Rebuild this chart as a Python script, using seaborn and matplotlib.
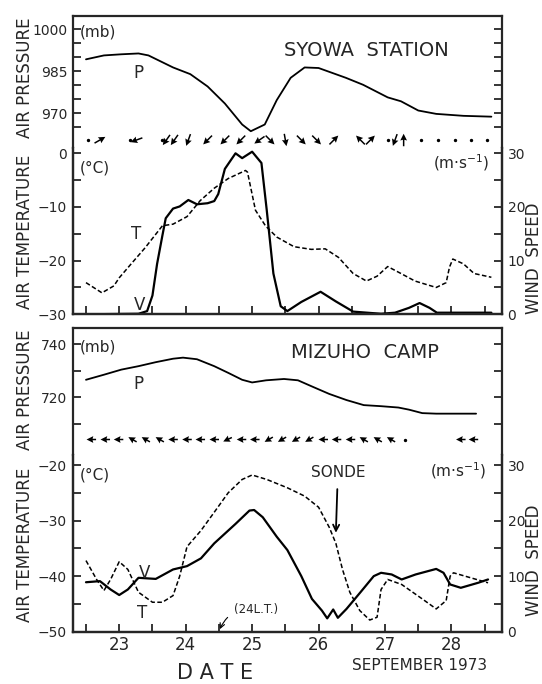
import numpy as np
import matplotlib
matplotlib.use("Agg")
import matplotlib.pyplot as plt
import seaborn as sns

# ---- Syowa Station ----
syowa_p_day = [22.50, 22.77, 23.03, 23.29, 23.44, 23.81, 24.07, 24.33, 24.59, 24.85, 24.98,
               25.19, 25.37, 25.58, 25.79, 26.00, 26.41, 26.67, 27.04, 27.24, 27.50, 27.77, 28.18, 28.60]
syowa_p = [989.3, 990.7, 991.1, 991.4, 990.7, 986.4, 984.0, 979.6, 973.5, 966.0, 963.6,
           966.0, 974.7, 982.7, 986.4, 986.2, 982.7, 980.2, 975.7, 974.3, 971.0, 969.8, 969.1, 968.8]

syowa_t_day = [22.50, 22.74, 22.92, 23.00, 23.18, 23.39, 23.65, 23.81, 24.02, 24.22, 24.43, 24.64,
               24.90, 24.93, 25.05, 25.20, 25.37, 25.63, 25.89, 26.10, 26.30, 26.52, 26.72, 26.88,
               27.04, 27.24, 27.45, 27.77, 27.92, 27.97, 28.02, 28.18, 28.34, 28.60]
syowa_t = [-24.1, -26.0, -24.7, -23.2, -20.6, -17.6, -13.5, -13.2, -11.8, -8.8, -6.5, -4.7,
           -3.2, -3.5, -10.6, -13.5, -15.6, -17.4, -17.9, -17.8, -19.4, -22.4, -23.8, -22.9,
           -21.1, -22.4, -23.8, -25.0, -24.1, -21.2, -19.7, -20.6, -22.4, -23.1]

syowa_v_day = [22.50, 23.29, 23.42, 23.50, 23.57, 23.65, 23.70, 23.81, 23.91, 24.04, 24.17, 24.33,
               24.43, 24.49, 24.59, 24.75, 24.85, 25.00, 25.14, 25.22, 25.32, 25.43, 25.53, 25.74,
               26.03, 26.26, 26.52, 26.94, 27.15, 27.36, 27.52, 27.67, 27.78, 28.60]
syowa_v = [0.0, 0.1, 0.6, 3.5, 9.4, 14.7, 17.9, 19.7, 20.1, 21.3, 20.5, 20.7,
           21.1, 22.4, 27.1, 30.0, 29.1, 30.3, 28.2, 19.4, 7.6, 1.5, 0.6, 2.3,
           4.2, 2.4, 0.5, 0.1, 0.3, 1.2, 2.1, 1.2, 0.3, 0.3]

# wind direction: degrees the arrow points to (ccw from east), nan = calm
syowa_wind_day = [22.53, 22.71, 23.16, 23.26, 23.65, 23.71, 23.83, 24.04, 24.33, 24.59, 24.83,
                  25.11, 25.27, 25.50, 25.74, 25.97, 26.23, 26.63, 26.78, 27.04, 27.15, 27.28,
                  27.54, 27.80, 28.06, 28.29, 28.53]
syowa_wind_dir = [np.nan, 30, np.nan, 200, np.nan, 235, 235, 250, 225, 225, 225,
                  215, -45, -80, -45, -45, 45, 135, 45, np.nan, 250, 90,
                  np.nan, np.nan, np.nan, np.nan, np.nan]

# ---- Mizuho Camp ----
mizuho_p_day = [22.50, 22.77, 23.03, 23.29, 23.55, 23.81, 23.96, 24.17, 24.43, 24.64, 24.85, 25.00,
                25.21, 25.48, 25.69, 25.90, 26.16, 26.42, 26.68, 26.94, 27.20, 27.36, 27.56, 27.77,
                27.98, 28.37]
mizuho_p = [726.6, 728.5, 730.4, 731.7, 733.2, 734.5, 734.9, 734.3, 731.7, 729.2, 726.6, 725.6,
            726.4, 726.9, 726.4, 724.1, 721.3, 719.0, 717.1, 716.7, 716.2, 715.4, 714.1, 713.9,
            713.9, 713.9]

mizuho_t_day = [22.50, 22.66, 22.77, 22.87, 23.00, 23.13, 23.29, 23.50, 23.65, 23.81, 23.91, 24.02,
                24.23, 24.43, 24.64, 24.85, 25.00, 25.22, 25.53, 25.79, 26.00, 26.16, 26.26, 26.36,
                26.47, 26.62, 26.77, 26.88, 26.94, 27.04, 27.25, 27.56, 27.77, 27.92, 27.98, 28.03,
                28.29, 28.55]
mizuho_t = [-37.2, -40.6, -42.6, -40.6, -37.4, -38.8, -42.9, -44.7, -44.7, -43.5, -40.0, -34.7,
            -31.8, -28.5, -25.0, -22.6, -21.8, -22.6, -24.1, -25.6, -27.6, -31.2, -34.1, -38.8,
            -42.9, -46.2, -47.9, -47.4, -42.4, -40.6, -41.5, -44.1, -45.9, -44.4, -40.0, -39.4,
            -40.3, -41.2]

mizuho_v_day = [22.50, 22.71, 22.87, 23.00, 23.13, 23.29, 23.55, 23.81, 24.02, 24.23, 24.43, 24.75,
                24.96, 25.03, 25.16, 25.37, 25.53, 25.74, 25.90, 26.05, 26.13, 26.22, 26.29, 26.42,
                26.63, 26.83, 26.94, 27.10, 27.25, 27.46, 27.77, 27.88, 27.98, 28.14, 28.40, 28.55]
mizuho_v = [8.9, 9.1, 7.6, 6.6, 7.6, 9.7, 9.5, 11.2, 11.8, 13.2, 15.9, 19.4,
            21.8, 21.9, 20.6, 17.1, 14.7, 10.0, 5.9, 3.8, 2.4, 4.0, 2.5, 4.1,
            7.1, 10.0, 10.6, 10.3, 9.4, 10.3, 11.3, 10.6, 8.5, 7.9, 8.8, 9.4]

mizuho_wind_day = [22.58, 22.79, 22.99, 23.20, 23.40, 23.61, 23.81, 24.02, 24.22, 24.43,
                   24.63, 24.84, 25.04, 25.25, 25.45, 25.66, 25.86, 26.07, 26.27, 26.48,
                   26.68, 26.89, 27.09, 27.30, 28.14, 28.33]
mizuho_wind_dir = [180, 180, 180, 150, 150, 150, 180, 180, 180, 180,
                   205, 180, 180, 210, 210, 210, 210, 180, 180, 180,
                   150, 150, 150, np.nan, 180, 180]

date_ticks = [23, 24, 25, 26, 27, 28]
half_day_ticks = [22.5, 23.5, 24.5, 25.5, 26.5, 27.5, 28.5]
sonde_day = 26.26

W, H = 542, 684
XLIM = (22.30, 28.76)

sns.set_style("ticks")
plt.rcParams['font.family'] = ['DejaVu Sans']
plt.rcParams['axes.linewidth'] = 1.6

fig = plt.figure(figsize=(W / 100, H / 100), dpi=100)


def rect(x0, y0, x1, y1):
    return [x0 / W, 1 - y1 / H, (x1 - x0) / W, (y1 - y0) / H]


def txt(x, y, s, **kw):
    kw.setdefault('ha', 'center')
    kw.setdefault('va', 'center')
    fig.text(x / W, 1 - y / H, s, **kw)


def style_y(ax, major, minor, lim):
    ax.set_ylim(*lim)
    ax.set_yticks(major)
    ax.set_yticks(minor, minor=True)
    ax.tick_params(axis='y', which='both', direction='in', length=6, width=1.3,
                   labelsize=10, pad=4)


def wind_row(y0, y1, days, dirs, scale):
    ax = fig.add_axes(rect(72.7, y0, 502, y1))
    ax.set_xlim(*XLIM)
    ax.set_ylim(-1, 1)
    ax.axis('off')
    d = np.array(days)
    a = np.radians(np.array(dirs, dtype=float))
    ok = ~np.isnan(a)
    ax.quiver(d[ok], np.zeros(ok.sum()), np.cos(a[ok]), np.sin(a[ok]), angles='uv',
              pivot='middle', scale_units='inches', scale=scale, width=0.0035,
              headwidth=4.5, headlength=4.5, headaxislength=4, color='k')
    ax.scatter(d[~ok], np.zeros((~ok).sum()), s=2, color='k')


def panel(top, p_bot, t_bot, p_day, p, p_lim, p_major, p_minor,
          t_day, t, t_lim, t_major, t_minor, v_day, v, bottom_labels):
    ax_p = fig.add_axes(rect(72.7, top, 502, p_bot))
    sns.lineplot(x=p_day, y=p, ax=ax_p, color='k', lw=1.3)
    ax_p.set_xlim(*XLIM)
    ax_p.spines['bottom'].set_visible(False)
    ax_p.set_xticks([])
    style_y(ax_p, p_major, p_minor, p_lim)
    ax_p.tick_params(axis='y', which='both', right=True)
    ax_p.set_xlabel('')
    ax_p.set_ylabel('')

    ax_t = fig.add_axes(rect(72.7, p_bot, 502, t_bot))
    sns.lineplot(x=t_day, y=t, ax=ax_t, color='k', lw=1.1, linestyle=(0, (3, 1.6)))
    ax_t.set_xlim(*XLIM)
    style_y(ax_t, t_major, t_minor, t_lim)
    ax_t.spines['top'].set_visible(False)
    ax_t.set_xticks(date_ticks)
    ax_t.set_xticks(half_day_ticks, minor=True)
    ax_t.tick_params(axis='x', which='both', direction='in', length=6, width=1.3,
                     labelsize=12, labelbottom=bottom_labels, pad=3)
    ax_t.set_xlabel('')
    ax_t.set_ylabel('')

    ax_v = ax_t.twinx()
    sns.lineplot(x=v_day, y=v, ax=ax_v, color='k', lw=1.6)
    ax_v.set_xlim(*XLIM)
    span = t_lim[1] - t_lim[0]
    style_y(ax_v, [0, 10, 20, 30], [5, 15, 25], (0, span))
    ax_v.spines['top'].set_visible(False)
    ax_v.set_ylabel('')
    return ax_p, ax_t, ax_v


# Syowa
panel(15.7, 148, 314.3, syowa_p_day, syowa_p, (957.6, 1004.9), [970, 985, 1000],
      [965, 975, 980, 990, 995], syowa_t_day, syowa_t, (-30, 0.99), [-30, -20, -10, 0],
      [-25, -15, -5], syowa_v_day, syowa_v, False)
wind_row(130, 150, syowa_wind_day, syowa_wind_dir, 8)

# Mizuho
ax_p2, ax_t2, ax_v2 = panel(328.3, 455, 631.7, mizuho_p_day, mizuho_p, (698.4, 745.9),
                            [720, 740], [710, 730], mizuho_t_day, mizuho_t, (-50, -18.2),
                            [-50, -40, -30, -20], [-45, -35, -25], mizuho_v_day, mizuho_v, True)
wind_row(430, 449, mizuho_wind_day, mizuho_wind_dir, 10.5)

ax_t2.annotate('SONDE', xy=(sonde_day, -32.2), xytext=(sonde_day + 0.03, -21.4),
               ha='center', va='center', fontsize=11,
               arrowprops=dict(arrowstyle='->', lw=1.3, color='k', shrinkA=4, shrinkB=0))
ax_t2.annotate('(24L.T.)', xy=(24.5, -50), xytext=(25.06, -46.0), ha='center', va='center',
               fontsize=8.5, arrowprops=dict(arrowstyle='->', lw=0.8, color='k',
                                             connectionstyle='arc3,rad=0.4', shrinkA=3))

# texts
txt(366, 51, 'SYOWA  STATION', fontsize=14)
txt(365, 353, 'MIZUHO  CAMP', fontsize=14)
for y in (32, 347):
    txt(80, y, '(mb)', fontsize=11, ha='left')
txt(80, 168, '(°C)', fontsize=11, ha='left')
txt(80, 475, '(°C)', fontsize=11, ha='left')
txt(490, 163, '(m·s$^{-1}$)', fontsize=11, ha='right')
txt(487, 471, '(m·s$^{-1}$)', fontsize=11, ha='right')
txt(138, 73, 'P', fontsize=12)
txt(138, 384, 'P', fontsize=12)
txt(136, 234, 'T', fontsize=12)
txt(140, 305, 'V', fontsize=12)
txt(145, 573, 'V', fontsize=12)
txt(142, 613, 'T', fontsize=12)
txt(25, 78, 'AIR PRESSURE', fontsize=12, rotation=90)
txt(25, 232, 'AIR TEMPERATURE', fontsize=12, rotation=90)
txt(534, 258, 'WIND  SPEED', fontsize=12, rotation=90)
txt(25, 390, 'AIR PRESSURE', fontsize=12, rotation=90)
txt(25, 545, 'AIR TEMPERATURE', fontsize=12, rotation=90)
txt(534, 560, 'WIND  SPEED', fontsize=12, rotation=90)
txt(420, 666, 'SEPTEMBER 1973', fontsize=11)
txt(215, 673, 'D A T E', fontsize=15)

fig.savefig('out.png', dpi=100)
